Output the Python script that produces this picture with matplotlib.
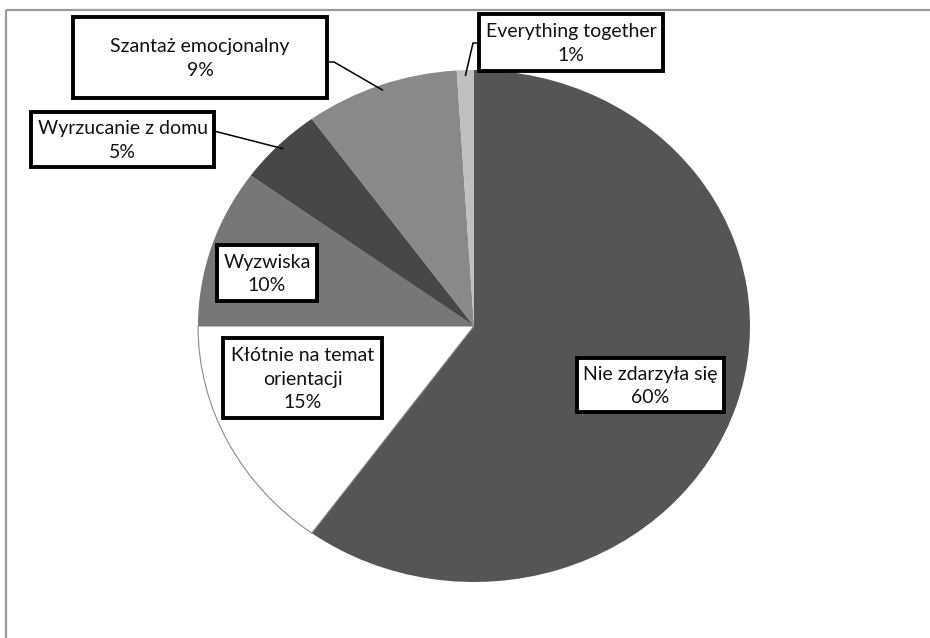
import numpy as np
import matplotlib
matplotlib.use("Agg")
import matplotlib.pyplot as plt
from matplotlib.patches import Rectangle

# Slice data (clockwise from 12 o'clock)
labels = ["Nie zdarzyła się", "Kłótnie na temat\norientacji", "Wyzwiska",
          "Wyrzucanie z domu", "Szantaż emocjonalny", "Everything together"]
shares = [60, 15, 10, 5, 9, 1]
colors = ["#555555", "#ffffff", "#777777", "#474747", "#898989", "#c0c0c0"]

# Label box geometry in figure pixels: (left, top, right, bottom)
boxes = [
    (577, 358, 724, 412),
    (223, 338, 382, 418),
    (217, 245, 317, 301),
    (31, 112, 214, 167),
    (73, 17, 327, 98),
    (479, 14, 663, 71),
]
# Leader line anchors on the box edge (None = no leader) and elbow points
leader_start = [None, None, None, (214, 131), (326, 62), (479, 43)]
leader_elbow = [None, None, None, None, (334, 62), (473, 43)]

W, H = 930, 638
fig = plt.figure(figsize=(W / 100, H / 100), dpi=100)
fig.patch.set_facecolor("white")

# Pie axes: ellipse spans x 198..750, y 70..582 (pixels from top)
px0, py0, px1, py1 = 198, 70, 750, 582
ax = fig.add_axes([px0 / W, (H - py1) / H, (px1 - px0) / W, (py1 - py0) / H])
wedges, _ = ax.pie(shares, colors=colors, startangle=90, counterclock=False,
                   radius=1.0, wedgeprops=dict(linewidth=0, edgecolor="none"))
wedges[1].set_edgecolor("#8a8a8a")
wedges[1].set_linewidth(0.8)
ax.set_aspect("auto")
ax.set_xlim(-1, 1)
ax.set_ylim(-1, 1)
ax.axis("off")

# Overlay axes in pixel coordinates for frame, boxes and leaders
ov = fig.add_axes([0, 0, 1, 1], zorder=5)
ov.set_xlim(0, W)
ov.set_ylim(H, 0)
ov.axis("off")
ov.patch.set_alpha(0)

# Chart-area frame (top and left edges visible)
ov.plot([6, W], [9.5, 9.5], color="#9a9a9a", lw=1.6, solid_capstyle="butt")
ov.plot([6, 6], [9.5, H], color="#9a9a9a", lw=1.6, solid_capstyle="butt")

cx, cy = (px0 + px1) / 2, (py0 + py1) / 2
rx, ry = (px1 - px0) / 2, (py1 - py0) / 2

total = sum(shares)
start = 90.0
for i, (lab, val) in enumerate(zip(labels, shares)):
    sweep = 360.0 * val / total
    mid = np.deg2rad(start - sweep / 2)
    start -= sweep
    l, t, r, b = boxes[i]
    if leader_start[i] is not None:
        ex = cx + 0.98 * rx * np.cos(mid)
        ey = cy - 0.98 * ry * np.sin(mid)
        pts = [leader_start[i]]
        if leader_elbow[i] is not None:
            pts.append(leader_elbow[i])
        pts.append((ex, ey))
        xs, ys = zip(*pts)
        ov.plot(xs, ys, color="black", lw=1.1, zorder=6)
    ov.add_patch(Rectangle((l, t), r - l, b - t, facecolor="white",
                           edgecolor="black", lw=2.8, zorder=7))
    pct = round(100 * val / total)
    ov.text((l + r) / 2, (t + b) / 2 + 1, f"{lab}\n{pct}%", ha="center",
            va="center", fontsize=14, family=["Lato", "DejaVu Sans"],
            color="#111111", linespacing=1.45, zorder=8)

fig.savefig("out.png", dpi=100, facecolor="white")
